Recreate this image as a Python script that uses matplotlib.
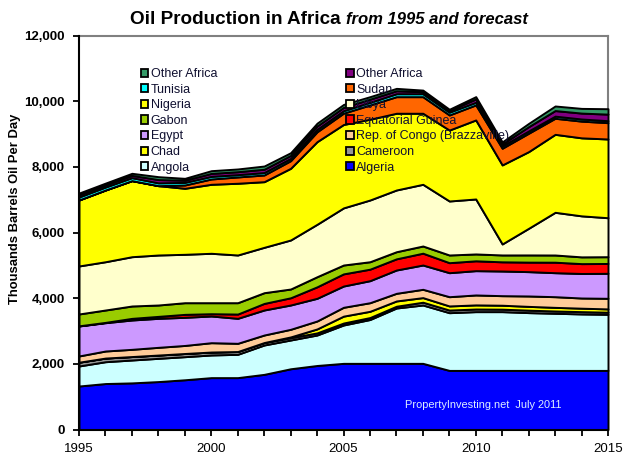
import numpy as np
import matplotlib
matplotlib.use('Agg')
import matplotlib.pyplot as plt
from matplotlib.patches import Patch

plt.rcParams['font.family'] = ['Liberation Sans', 'DejaVu Sans']

years = list(range(1995, 2016))

# thousands of barrels per day, bottom of the stack first
algeria = [1325, 1400, 1420, 1460, 1515, 1580, 1580, 1680, 1850, 1950, 2015, 2015, 2015, 2015, 1800, 1800, 1800, 1800, 1800, 1800, 1800]
angola = [610, 665, 697, 708, 703, 690, 710, 894, 876, 928, 1168, 1335, 1685, 1777, 1758, 1790, 1790, 1760, 1740, 1720, 1708]
cameroon = [115, 111, 105, 100, 97, 90, 85, 75, 70, 65, 60, 60, 55, 85, 80, 80, 75, 75, 70, 70, 65]
chad = [0, 0, 0, 0, 0, 0, 0, 0, 24, 120, 210, 190, 160, 140, 125, 125, 120, 115, 110, 105, 100]
congo = [190, 215, 220, 235, 245, 284, 250, 229, 232, 242, 269, 262, 233, 253, 282, 303, 291, 317, 325, 310, 323]
egypt = [913, 862, 893, 883, 857, 813, 761, 762, 740, 691, 648, 671, 710, 740, 731, 740, 751, 741, 731, 747, 761]
eq_guinea = [5, 10, 50, 60, 90, 70, 130, 200, 220, 350, 370, 350, 340, 360, 305, 300, 280, 290, 320, 300, 300]
gabon = [361, 377, 377, 346, 355, 335, 346, 327, 267, 308, 270, 227, 217, 219, 234, 209, 209, 219, 219, 206, 206]
libya = [1462, 1470, 1501, 1523, 1474, 1505, 1453, 1382, 1493, 1596, 1740, 1880, 1880, 1879, 1645, 1674, 335, 812, 1300, 1249, 1187]
nigeria = [2010, 2185, 2317, 2112, 2010, 2101, 2185, 1999, 2183, 2517, 2540, 2460, 2337, 2164, 2160, 2407, 2407, 2335, 2375, 2376, 2398]
sudan = [0, 0, 0, 0, 101, 162, 192, 204, 232, 300, 345, 435, 505, 505, 460, 458, 508, 560, 489, 509, 497]
tunisia = [90, 90, 90, 85, 80, 80, 70, 75, 70, 75, 75, 80, 90, 90, 85, 80, 70, 70, 65, 65, 60]
other_a = [65, 65, 70, 100, 65, 90, 90, 100, 90, 100, 100, 95, 90, 60, 48, 100, 60, 130, 170, 180, 200]
other_b = [55, 55, 63, 88, 58, 83, 83, 98, 83, 88, 90, 77, 73, 50, 40, 72, 63, 100, 139, 143, 165]

series = [algeria, angola, cameroon, chad, congo, egypt, eq_guinea, gabon, libya, nigeria, sudan, tunisia, other_a, other_b]
colors = ['#0000FF', '#CCFFFF', '#969696', '#FFFF00', '#FFCC99', '#CC99FF', '#FF0000',
          '#99CC00', '#FFFFCC', '#FFFF00', '#FF6600', '#00FFFF', '#800080', '#339966']

W, H = 631, 463
fig = plt.figure(figsize=(W / 100, H / 100), dpi=100)
ax = fig.add_axes([79 / W, 1 - 429.5 / H, (608 - 79) / W, (429.5 - 35.5) / H])

polys = ax.stackplot(years, series, colors=colors, edgecolor='black', linewidth=1.4)
for p in polys:
    p.set_clip_on(False)

ax.set_xlim(1995, 2015)
ax.set_ylim(0, 12000)
ax.set_xticks(range(1995, 2016, 5))
ax.set_xticks(years, minor=True)
ax.set_yticks(range(0, 12001, 2000))
ax.set_yticklabels([f'{v:,}' for v in range(0, 12001, 2000)])
ax.tick_params(axis='both', which='major', labelsize=9.5, length=4, width=1.3, color='black', pad=6)
ax.tick_params(axis='x', which='major', pad=6)
ax.tick_params(axis='x', which='minor', length=4, width=1.3, color='black')
for lab in ax.get_yticklabels():
    lab.set_fontweight('bold')

for side in ['top', 'right']:
    ax.spines[side].set_color('#808080')
    ax.spines[side].set_linewidth(1.5)
    ax.spines[side].set_zorder(0.5)
for side in ['left', 'bottom']:
    ax.spines[side].set_color('black')
    ax.spines[side].set_linewidth(1.5)

# legend runs column by column, top of the stack first on the left side
order = [13, 11, 9, 7, 5, 3, 1, 12, 10, 8, 6, 4, 2, 0]
handles = [Patch(facecolor=colors[i], edgecolor='black', linewidth=1.3) for i in order]
labels = ['Other Africa', 'Tunisia', 'Nigeria', 'Gabon', 'Egypt', 'Chad', 'Angola',
          'Other Africa', 'Sudan', 'Libya', 'Equatorial Guinea', 'Rep. of Congo (Brazzaville)', 'Cameroon', 'Algeria']
ax.legend(handles, labels, ncol=2, loc='upper left', bbox_to_anchor=(140.5 / W, 1 - 68 / H),
          bbox_transform=fig.transFigure, frameon=False, fontsize=9, borderpad=0, borderaxespad=0,
          handlelength=0.62, handleheight=0.62, handletextpad=0.2, labelspacing=0.29, columnspacing=10.3,
          labelcolor='#101030')

fig.text(130 / W, 1 - 19 / H, 'Oil Production in Africa', fontsize=13.6, fontweight='bold', va='center', ha='left')
fig.text(346 / W, 1 - 19 / H, 'from 1995 and forecast', fontsize=12, fontweight='bold', style='italic', va='center', ha='left')
fig.text(15.5 / W, 1 - 209 / H, 'Thousands Barrels Oil Per Day', fontsize=9.4, fontweight='bold', rotation=90, va='center', ha='center')
fig.text(405 / W, 1 - 405 / H, 'PropertyInvesting.net  July 2011', fontsize=7.9, color='#DDEEFF', va='center', ha='left', zorder=5)

fig.savefig('out.png', dpi=100)
